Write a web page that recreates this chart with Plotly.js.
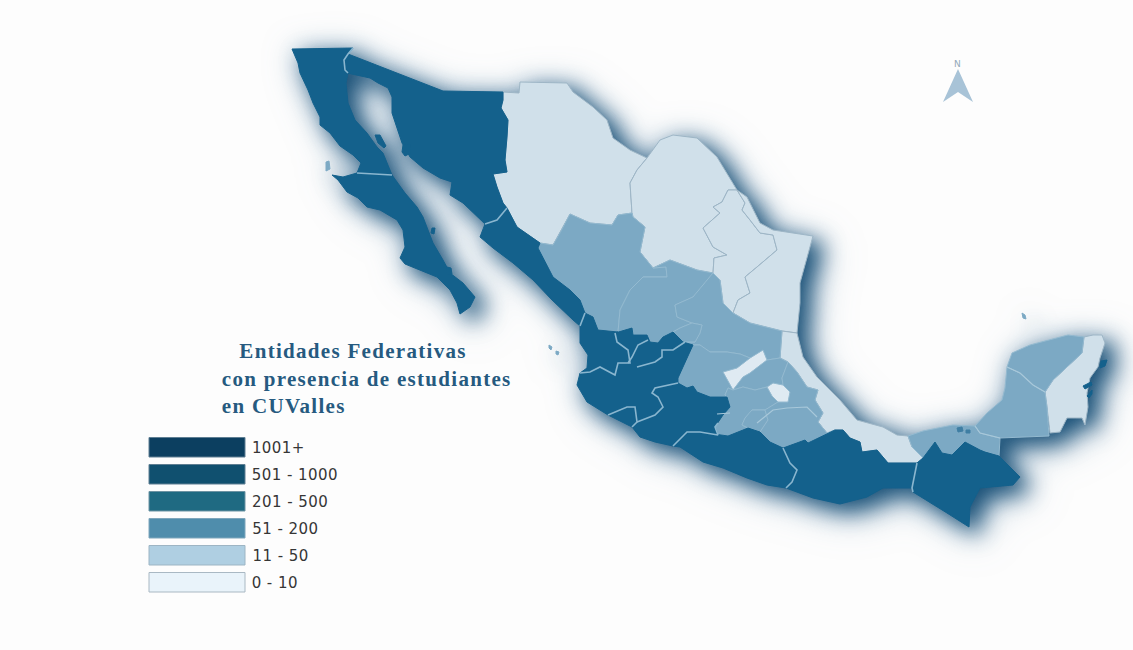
<!DOCTYPE html>
<html><head><meta charset="utf-8">
<script src="https://cdn.plot.ly/plotly-3.0.1.min.js"></script>
<style>
html,body{margin:0;padding:0;background:#fdfdfd;overflow:hidden}
#map{width:1133px;height:650px}
#map .scatterlayer{filter:drop-shadow(10px 8px 11px rgba(14,72,112,.92)) drop-shadow(2px 3px 15px rgba(70,120,160,.5))}
</style></head><body><div id="map"></div>
<script>
// State outlines (picture units)
const bajaCalifornia=[[292,49],[353,48],[348,54],[344,60],[345,70],[348,73],[346,83],[348,103],[355,120],[367,133],[377,147],[383,153],[392,175],[357,173],[361,163],[353,155],[340,146],[330,133],[320,125],[320,117],[313,103],[308,90],[300,73],[298,63]];
const bajaCaliforniaSur=[[357,173],[392,175],[405,193],[417,207],[423,217],[428,230],[433,243],[443,260],[450,273],[463,283],[475,297],[470,307],[460,314],[457,303],[450,290],[437,277],[420,270],[405,264],[400,258],[405,247],[403,230],[397,220],[380,210],[367,207],[358,198],[347,192],[338,180],[332,175],[343,177]];
const sonora=[[348,54],[443,91],[503,92],[503,100],[501,108],[508,120],[507,137],[505,160],[507,172],[493,174],[497,187],[503,203],[507,208],[497,220],[485,224],[473,213],[463,203],[450,195],[452,182],[440,178],[423,168],[410,157],[402,143],[392,113],[392,97],[388,88],[378,83],[370,78],[347,73],[344,60]];
const sinaloa=[[507,208],[497,220],[485,224],[480,237],[493,248],[513,263],[533,280],[552,300],[573,320],[580,326],[585,313],[580,300],[570,290],[553,277],[538,248],[540,243],[517,227]];
const chihuahua=[[503,92],[519,93],[520,82],[567,83],[573,92],[593,107],[607,120],[613,138],[630,150],[647,158],[637,170],[630,183],[632,213],[618,215],[612,225],[590,223],[570,214],[560,233],[553,245],[540,243],[517,227],[507,208],[503,203],[497,187],[493,174],[507,172],[505,160],[507,137],[508,120],[501,108],[503,100]];
const coahuila=[[647,158],[660,140],[673,135],[697,138],[717,157],[737,190],[728,190],[722,202],[713,207],[720,213],[703,228],[713,247],[727,255],[714,258],[713,273],[697,270],[670,260],[653,268],[640,252],[645,227],[633,217],[632,213],[630,183],[637,170]];
const nuevoLeon=[[737,190],[728,190],[722,202],[713,207],[720,213],[703,228],[713,247],[727,255],[714,258],[713,273],[720,280],[723,303],[733,313],[738,300],[750,293],[745,277],[757,267],[777,250],[773,235],[760,233],[750,220],[742,210],[745,203]];
const tamaulipas=[[737,190],[747,197],[760,223],[773,230],[813,236],[807,257],[800,283],[800,303],[797,333],[782,331],[750,323],[733,313],[738,300],[750,293],[745,277],[757,267],[777,250],[773,235],[760,233],[750,220],[742,210],[745,203]];
const durango=[[540,243],[553,245],[560,233],[570,214],[590,223],[612,225],[618,215],[632,213],[633,217],[645,227],[640,252],[653,268],[666,267],[667,277],[643,277],[630,290],[620,310],[618,332],[598,330],[593,317],[585,313],[580,300],[570,290],[553,277],[538,248]];
const zacatecas=[[653,268],[666,267],[667,277],[643,277],[630,290],[620,310],[618,332],[632,328],[633,335],[647,335],[650,342],[658,343],[663,337],[673,332],[680,328],[692,323],[677,317],[675,305],[693,297],[713,273],[697,270],[670,260]];
const sanLuisPotosi=[[713,273],[720,280],[723,303],[733,313],[750,323],[782,331],[780,358],[767,360],[763,350],[750,358],[740,354],[727,352],[710,352],[700,345],[693,345],[683,342],[695,342],[700,333],[702,325],[692,323],[677,317],[675,305],[693,297]];
const aguascalientes=[[673,332],[683,342],[695,342],[700,333],[702,325],[692,323],[680,328]];
const nayarit=[[585,313],[580,326],[580,343],[588,355],[587,368],[580,373],[590,372],[600,367],[615,375],[618,363],[630,363],[628,350],[617,342],[615,333],[618,332],[598,330],[593,317]];
const jalisco=[[580,373],[590,372],[600,367],[615,375],[618,363],[630,363],[628,350],[617,342],[615,333],[618,332],[632,328],[633,335],[647,335],[650,342],[658,343],[663,337],[673,332],[683,342],[693,345],[678,378],[678,383],[655,388],[652,393],[658,397],[663,407],[655,415],[637,422],[635,407],[627,407],[608,415],[587,402],[577,385]];
const colima=[[608,415],[627,407],[635,407],[637,422],[632,427]];
const michoacan=[[632,427],[637,422],[655,415],[663,407],[658,397],[652,393],[655,388],[678,383],[687,388],[693,386],[697,392],[710,397],[727,397],[730,407],[723,415],[718,423],[715,427],[718,435],[700,432],[687,432],[682,437],[673,446],[655,442],[640,437]];
const guerrero=[[673,446],[682,437],[687,432],[700,432],[718,435],[728,436],[748,428],[760,432],[770,442],[783,448],[790,463],[797,470],[792,482],[786,488],[767,485],[747,478],[723,468],[703,462],[680,447]];
const oaxaca=[[783,448],[805,440],[808,443],[835,430],[843,430],[850,438],[860,442],[862,452],[877,450],[888,463],[917,463],[912,488],[883,488],[867,497],[840,504],[813,498],[786,488],[792,482],[797,470],[790,463]];
const chiapas=[[917,463],[923,458],[935,442],[942,453],[952,455],[965,442],[980,450],[985,452],[999,456],[1020,477],[1013,485],[980,488],[970,507],[969,527],[947,513],[913,492],[912,488]];
const tabasco=[[908,436],[923,431],[953,425],[975,426],[980,433],[1000,438],[999,456],[985,452],[980,450],[965,442],[952,455],[942,453],[935,442],[923,458],[912,447]];
const campeche=[[975,426],[987,413],[1002,400],[1005,388],[1007,367],[1020,373],[1033,385],[1045,392],[1047,407],[1049,436],[1000,438],[980,433]];
const yucatan=[[1007,367],[1012,353],[1030,345],[1055,338],[1068,335],[1084,337],[1082,353],[1067,367],[1053,380],[1045,392],[1033,385],[1020,373]];
const quintanaRoo=[[1084,337],[1093,335],[1102,335],[1105,343],[1100,358],[1098,367],[1090,378],[1087,393],[1088,407],[1085,425],[1082,418],[1067,418],[1060,432],[1050,433],[1047,407],[1045,392],[1053,380],[1067,367],[1082,353]];
const veracruz=[[782,331],[797,333],[803,357],[817,377],[840,400],[857,420],[883,427],[897,435],[908,436],[912,447],[923,458],[917,463],[888,463],[877,450],[862,452],[860,442],[850,438],[843,430],[835,430],[827,433],[818,422],[823,413],[815,400],[818,390],[807,387],[797,372],[788,362],[780,358]];
const guanajuato=[[693,345],[700,345],[710,352],[727,352],[740,354],[750,358],[737,368],[723,372],[733,390],[728,388],[725,395],[727,397],[710,397],[697,392],[693,386],[687,388],[678,383],[678,378]];
const queretaro=[[723,372],[737,368],[750,358],[763,350],[767,360],[750,373],[743,377],[733,390]];
const hidalgo=[[743,377],[750,373],[767,360],[780,358],[788,362],[782,378],[783,385],[773,383],[767,387],[755,390],[743,387],[733,390]];
const mexicoState=[[733,390],[743,387],[755,390],[767,387],[772,396],[778,402],[765,410],[752,410],[745,418],[742,425],[748,428],[728,436],[718,435],[715,427],[718,423],[723,415],[730,407],[727,397],[725,395],[728,388]];
const morelos=[[748,428],[742,425],[745,418],[752,410],[765,410],[768,420],[760,432]];
const tlaxcala=[[767,387],[773,383],[783,385],[790,392],[788,402],[778,402],[772,396]];
const puebla=[[788,362],[797,372],[807,387],[818,390],[815,400],[823,413],[818,422],[827,433],[835,430],[808,443],[805,440],[783,448],[770,442],[760,432],[768,420],[765,410],[778,402],[788,402],[790,392],[783,385],[782,378]];
// Islands and lagoons
const angelGuarda=[[375,135],[380,135],[386,146],[384,148],[378,143]];
const tiburon=[[403,145],[410,144],[411,153],[405,156],[402,152]];
const carmen=[[432,228],[435,228],[434,234],[431,233]];
const espiritu=[[447,267],[451,268],[452,274],[448,275],[446,271]];
const cedros=[[326,162],[329,161],[330,169],[326,171]];
const cozumel=[[1101,361],[1107,360],[1105,366],[1100,368]];
const bacalarA=[[1083,386],[1091,382],[1092,385],[1085,389]];
const bacalarB=[[1087,396],[1092,390],[1092,394],[1089,398]];
const lagoonA=[[957,428],[962,427],[963,431],[958,432]];
const lagoonB=[[966,430],[970,430],[970,433],[966,433]];
const alacran=[[1022,313],[1025,315],[1026,319],[1023,318]];
const mariasA=[[549,345],[552,347],[551,350],[549,348]];
const mariasB=[[556,351],[559,352],[558,355],[556,354]];
// Inner borders between same-colour neighbours
const borderBajaSon=[[353,48],[348,54],[344,60],[345,70],[348,73]];
const borderBajas=[[357,173],[392,175]];
const borderSonSin=[[507,208],[497,220],[485,224]];
const borderSinNay=[[585,313],[580,326]];
const borderNayJal=[[580,373],[590,372],[600,367],[615,375],[618,363],[630,363],[628,350],[617,342],[615,333]];
const borderJalNorth=[[648,340],[638,345],[632,357],[628,363]];
const borderJalZac=[[637,367],[655,362],[662,357],[662,350],[673,350],[685,342]];
const borderColima=[[608,415],[627,407],[635,407],[637,422],[632,427]];
const borderJalMich=[[637,422],[655,415],[663,407],[658,397],[652,393],[655,388],[678,383]];
const borderMichGro=[[673,446],[682,437],[687,432],[700,432],[718,435],[715,427],[718,423]];
const borderGroOax=[[783,448],[790,463],[797,470],[792,482],[786,488]];
const borderOaxChis=[[917,463],[912,488],[913,492]];
const innerPueblaLine=[[757,423],[773,410],[787,408],[807,407],[817,417]];
const innerMexLine=[[717,414],[730,413]];
const borderYucCam=[[1007,367],[1020,373],[1033,385],[1045,392]];
const borderTabCam=[[975,426],[980,433],[1000,438]];
const northArrow=[[958,69],[973,102],[958,92],[943,102]];

const fillDark='#14618c', fillMid='#7ca9c4', fillLight='#d0e0ea', fillPale='#dfeaf2';
const tierStates=[
 {fill:fillLight,line:'#9eb6c6',states:[chihuahua,coahuila,nuevoLeon,tamaulipas,veracruz,quintanaRoo]},
 {fill:fillPale,line:'#dfeaf2',states:[queretaro,tlaxcala]},
 {fill:fillMid,line:'#94bad0',states:[durango,zacatecas,sanLuisPotosi,aguascalientes,guanajuato,hidalgo,mexicoState,morelos,puebla,tabasco,campeche,yucatan]},
 {fill:fillDark,line:fillDark,states:[bajaCalifornia,bajaCaliforniaSur,sonora,sinaloa,nayarit,jalisco,colima,michoacan,guerrero,oaxaca,chiapas,angelGuarda,tiburon,carmen,espiritu,cozumel,bacalarA,bacalarB]},
 {fill:'#3f7ea3',line:'#3f7ea3',states:[lagoonA,lagoonB]},
 {fill:fillMid,line:fillMid,states:[cedros,alacran,mariasA,mariasB]}
];
const innerBorders=[borderBajaSon,borderBajas,borderSonSin,borderSinNay,borderNayJal,borderJalNorth,borderJalZac,borderColima,borderJalMich,borderMichGro,borderGroOax,borderOaxChis];
const midBorders=[innerPueblaLine,innerMexLine,borderYucCam,borderTabCam];

const legendLabels=['1001+','501 - 1000','201 - 500','51 - 200','11 - 50','0 - 10'];
const legendColors=['#0c3f60','#10506f','#1f6a82','#4f8dac','#afcfe2','#e9f3fa'];
const legendEdges=['#5f7f93','#5f7f93','#6d93a3','#7fa6bc','#9db5c4','#a9b8c3'];
const titleLines=['Entidades Federativas','con presencia de estudiantes','en CUValles'];

const traces=[];
const xs=p=>p.map(q=>q[0]).concat([p[0][0]]);
const ys=p=>p.map(q=>q[1]).concat([p[0][1]]);
tierStates.forEach(t=>t.states.forEach(p=>traces.push({type:'scatter',mode:'lines',x:xs(p),y:ys(p),fill:'toself',fillcolor:t.fill,line:{color:t.line,width:1},hoverinfo:'skip',showlegend:false})));
innerBorders.forEach(p=>traces.push({type:'scatter',mode:'lines',x:p.map(q=>q[0]),y:p.map(q=>q[1]),line:{color:'#8ab6cf',width:1.6},hoverinfo:'skip',showlegend:false}));
midBorders.forEach(p=>traces.push({type:'scatter',mode:'lines',x:p.map(q=>q[0]),y:p.map(q=>q[1]),line:{color:'#a8c8da',width:1.2},hoverinfo:'skip',showlegend:false}));

const shapes=legendLabels.map((l,i)=>({type:'rect',xref:'x',yref:'y',x0:149,x1:245,y0:437.5+27*i,y1:457+27*i,fillcolor:legendColors[i],line:{color:legendEdges[i],width:1},layer:'below'}));
shapes.push({type:'path',xref:'x',yref:'y',path:'M'+northArrow.map(q=>q.join(',')).join('L')+'Z',fillcolor:'#a8c3d7',line:{width:0},layer:'below'});

const titleSpacing=1.3, labelSpacing=0.45;
const annotations=legendLabels.map((l,i)=>({xref:'x',yref:'y',x:250,y:447.5+27.1*i,xshift:l.length*labelSpacing/2,text:l,showarrow:false,xanchor:'left',yanchor:'middle',font:{family:'DejaVu Sans',size:15,color:'#363636'}}));
const titleX=[237,220,220], titleY=[351,379,406];
titleLines.forEach((t,i)=>annotations.push({xref:'x',yref:'y',x:titleX[i],y:titleY[i],xshift:t.length*titleSpacing/2,text:'<b>'+t+'</b>',showarrow:false,xanchor:'left',yanchor:'middle',font:{family:'Liberation Serif',size:21,color:'#265a80'}}));
annotations.push({xref:'x',yref:'y',x:957,y:64,text:'N',showarrow:false,xanchor:'center',yanchor:'middle',font:{family:'DejaVu Sans',size:9,color:'#94a9b8'}});

Plotly.newPlot('map',traces,{
 width:1133,height:650,margin:{l:0,r:0,t:0,b:0},paper_bgcolor:'#fdfdfd',plot_bgcolor:'#fdfdfd',
 xaxis:{range:[0,1133],visible:false,fixedrange:true},
 yaxis:{range:[650,0],visible:false,fixedrange:true},
 shapes:shapes,annotations:annotations,showlegend:false
},{displayModeBar:false,staticPlot:true}).then(()=>{
 document.querySelectorAll('.annotation-text').forEach(el=>{
  const t=el.textContent;
  if(titleLines.includes(t)) el.style.letterSpacing=titleSpacing+'px';
  else if(legendLabels.includes(t)) el.style.letterSpacing=labelSpacing+'px';
 });
});
</script></body></html>
